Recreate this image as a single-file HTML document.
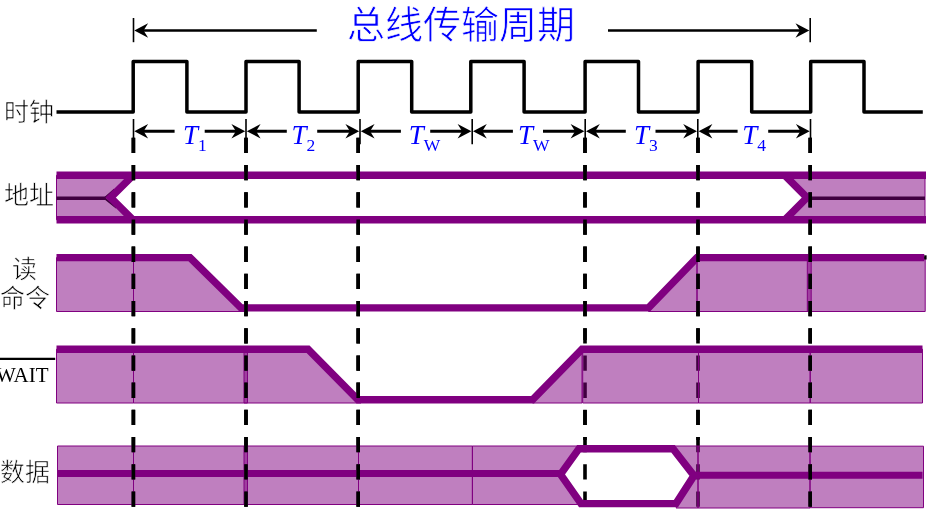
<!DOCTYPE html>
<html lang="zh-CN"><head><meta charset="utf-8"><title>bus timing</title>
<style>
html,body{margin:0;padding:0;background:#fff;}
body{width:930px;height:513px;overflow:hidden;position:relative;font-family:"Liberation Serif",serif;}
svg{position:absolute;left:0;top:0;will-change:transform;}
.lab{position:absolute;will-change:transform;-webkit-text-stroke:0.6px #fff;color:#000;font-family:"Liberation Serif",serif;white-space:nowrap;line-height:1;}
</style></head><body>
<svg width="930" height="513" viewBox="0 0 930 513">
<defs><clipPath id="cl1"><rect x="0" y="0" width="930" height="340"/><rect x="0" y="410" width="930" height="30"/></clipPath></defs>
<line x1="133.4" y1="137.8" x2="133.4" y2="530" stroke="#000" stroke-width="3.6" stroke-dasharray="15.3 11.9"/>
<line x1="246.0" y1="137.8" x2="246.0" y2="530" stroke="#000" stroke-width="3.6" stroke-dasharray="15.3 11.9"/>
<line x1="358.2" y1="137.8" x2="358.2" y2="530" stroke="#000" stroke-width="3.6" stroke-dasharray="15.3 11.9"/>
<line x1="585.0" y1="137.8" x2="585.0" y2="530" stroke="#000" stroke-width="3.6" stroke-dasharray="15.3 11.9"/>
<line x1="698.0" y1="137.8" x2="698.0" y2="530" stroke="#000" stroke-width="3.6" stroke-dasharray="15.3 11.9"/>
<line x1="810.2" y1="137.8" x2="810.2" y2="530" stroke="#000" stroke-width="3.6" stroke-dasharray="15.3 11.9"/>
<g>
<line x1="133.5" y1="18" x2="133.5" y2="42.2" stroke="#000" stroke-width="1.6"/>
<line x1="810.2" y1="18" x2="810.2" y2="42.2" stroke="#000" stroke-width="1.6"/>
<line x1="140" y1="30.5" x2="316.8" y2="30.5" stroke="#000" stroke-width="2.7"/>
<line x1="608" y1="30.5" x2="803" y2="30.5" stroke="#000" stroke-width="2.7"/>
<path d="M134.3,30.5 L148.10000000000002,23.3 L143.60000000000002,30.5 L148.10000000000002,37.7 Z" fill="#000"/>
<path d="M809.3,30.5 L795.5,23.3 L800.0,30.5 L795.5,37.7 Z" fill="#000"/>
</g>
<path d="M56.5,111.9 L133.2,111.9 L133.2,61.6 L186.9,61.6 L186.9,111.9 L246.0,111.9 L246.0,61.6 L299.1,61.6 L299.1,111.9 L358.2,111.9 L358.2,61.6 L411.7,61.6 L411.7,111.9 L470.8,111.9 L470.8,61.6 L524.1,61.6 L524.1,111.9 L585.1,111.9 L585.1,61.6 L638.5,61.6 L638.5,111.9 L698.1,111.9 L698.1,61.6 L751.7,61.6 L751.7,111.9 L810.7,111.9 L810.7,61.6 L864.0,61.6 L864.0,111.9 L922.8,111.9" fill="none" stroke="#000" stroke-width="3.5" stroke-linejoin="round"/>
<line x1="133.5" y1="119" x2="133.5" y2="144.3" stroke="#000" stroke-width="1.6"/>
<line x1="246.0" y1="119" x2="246.0" y2="144.3" stroke="#000" stroke-width="1.6"/>
<line x1="360.0" y1="119" x2="360.0" y2="144.3" stroke="#000" stroke-width="1.6"/>
<line x1="472.2" y1="119" x2="472.2" y2="144.3" stroke="#000" stroke-width="1.6"/>
<line x1="585.2" y1="119" x2="585.2" y2="144.3" stroke="#000" stroke-width="1.6"/>
<line x1="697.8" y1="119" x2="697.8" y2="144.3" stroke="#000" stroke-width="1.6"/>
<line x1="810.5" y1="119" x2="810.5" y2="144.3" stroke="#000" stroke-width="1.6"/>
<line x1="138.5" y1="131.3" x2="174.6" y2="131.3" stroke="#000" stroke-width="2.9"/>
<line x1="204.7" y1="131.3" x2="241.0" y2="131.3" stroke="#000" stroke-width="2.9"/>
<path d="M134.3,131.3 L148.10000000000002,124.10000000000001 L143.60000000000002,131.3 L148.10000000000002,138.5 Z" fill="#000"/>
<path d="M245.2,131.3 L231.39999999999998,124.10000000000001 L235.89999999999998,131.3 L231.39999999999998,138.5 Z" fill="#000"/>
<line x1="251.0" y1="131.3" x2="286.8" y2="131.3" stroke="#000" stroke-width="2.9"/>
<line x1="317.2" y1="131.3" x2="355.0" y2="131.3" stroke="#000" stroke-width="2.9"/>
<path d="M246.8,131.3 L260.6,124.10000000000001 L256.1,131.3 L260.6,138.5 Z" fill="#000"/>
<path d="M359.2,131.3 L345.4,124.10000000000001 L349.9,131.3 L345.4,138.5 Z" fill="#000"/>
<line x1="365.0" y1="131.3" x2="400.9" y2="131.3" stroke="#000" stroke-width="2.9"/>
<line x1="430.2" y1="131.3" x2="467.2" y2="131.3" stroke="#000" stroke-width="2.9"/>
<path d="M360.8,131.3 L374.6,124.10000000000001 L370.1,131.3 L374.6,138.5 Z" fill="#000"/>
<path d="M471.4,131.3 L457.59999999999997,124.10000000000001 L462.09999999999997,131.3 L457.59999999999997,138.5 Z" fill="#000"/>
<line x1="477.2" y1="131.3" x2="512.9" y2="131.3" stroke="#000" stroke-width="2.9"/>
<line x1="543.0" y1="131.3" x2="580.2" y2="131.3" stroke="#000" stroke-width="2.9"/>
<path d="M473.0,131.3 L486.8,124.10000000000001 L482.3,131.3 L486.8,138.5 Z" fill="#000"/>
<path d="M584.4000000000001,131.3 L570.6000000000001,124.10000000000001 L575.1000000000001,131.3 L570.6000000000001,138.5 Z" fill="#000"/>
<line x1="590.2" y1="131.3" x2="625.8" y2="131.3" stroke="#000" stroke-width="2.9"/>
<line x1="655.5" y1="131.3" x2="692.8" y2="131.3" stroke="#000" stroke-width="2.9"/>
<path d="M586.0,131.3 L599.8,124.10000000000001 L595.3,131.3 L599.8,138.5 Z" fill="#000"/>
<path d="M697.0,131.3 L683.2,124.10000000000001 L687.7,131.3 L683.2,138.5 Z" fill="#000"/>
<line x1="702.8" y1="131.3" x2="737.6" y2="131.3" stroke="#000" stroke-width="2.9"/>
<line x1="768.2" y1="131.3" x2="805.5" y2="131.3" stroke="#000" stroke-width="2.9"/>
<path d="M698.5999999999999,131.3 L712.3999999999999,124.10000000000001 L707.8999999999999,131.3 L712.3999999999999,138.5 Z" fill="#000"/>
<path d="M809.7,131.3 L795.9000000000001,124.10000000000001 L800.4000000000001,131.3 L795.9000000000001,138.5 Z" fill="#000"/>
<text x="182.9" y="143.8" font-family="Liberation Serif" font-style="italic" font-size="27" fill="#0000ff">T</text>
<text x="197.9" y="150.6" font-family="Liberation Serif" font-size="17.5" fill="#0000ff">1</text>
<text x="291.6" y="143.8" font-family="Liberation Serif" font-style="italic" font-size="27" fill="#0000ff">T</text>
<text x="306.6" y="150.6" font-family="Liberation Serif" font-size="17.5" fill="#0000ff">2</text>
<text x="408.8" y="143.8" font-family="Liberation Serif" font-style="italic" font-size="27" fill="#0000ff">T</text>
<text x="423.8" y="150.6" font-family="Liberation Serif" font-size="17.5" fill="#0000ff">W</text>
<text x="517.9" y="143.8" font-family="Liberation Serif" font-style="italic" font-size="27" fill="#0000ff">T</text>
<text x="532.9" y="150.6" font-family="Liberation Serif" font-size="17.5" fill="#0000ff">W</text>
<text x="634.0" y="143.8" font-family="Liberation Serif" font-style="italic" font-size="27" fill="#0000ff">T</text>
<text x="649.0" y="150.6" font-family="Liberation Serif" font-size="17.5" fill="#0000ff">3</text>
<text x="742.2" y="143.8" font-family="Liberation Serif" font-style="italic" font-size="27" fill="#0000ff">T</text>
<text x="757.2" y="150.6" font-family="Liberation Serif" font-size="17.5" fill="#0000ff">4</text>
<polygon points="56.5,175.3 133,175.3 110.6,197.55 133,219.8 56.5,219.8" fill="rgba(128,0,128,0.5)" stroke="#800080" stroke-width="1"/>
<polygon points="925,175.3 784.8,175.3 807.0,197.55 784.8,219.8 925,219.8" fill="rgba(128,0,128,0.5)" stroke="#800080" stroke-width="1"/>
<line x1="56.5" y1="198.3" x2="106" y2="198.3" stroke="#400040" stroke-width="3.6"/>
<polyline points="114.5,189.6 104.6,198.3 116.5,207.8" fill="none" stroke="#400040" stroke-width="2" stroke-linejoin="miter"/>
<line x1="812" y1="198.3" x2="925" y2="198.3" stroke="#400040" stroke-width="3.4"/>
<line x1="56.5" y1="175.3" x2="926" y2="175.3" stroke="#800080" stroke-width="7.4"/>
<line x1="56.5" y1="219.8" x2="926" y2="219.8" stroke="#800080" stroke-width="7.4"/>
<polyline points="133,175.3 110.6,197.55 133,219.8" fill="none" stroke="#800080" stroke-width="7.4" stroke-linejoin="miter"/>
<polyline points="784.8,175.3 807.0,197.55 784.8,219.8" fill="none" stroke="#800080" stroke-width="7.4" stroke-linejoin="miter"/>
<polygon points="56.5,257.6 133.5,257.6 133.5,311.5 56.5,311.5" fill="rgba(128,0,128,0.5)" stroke="#800080" stroke-width="1"/>
<polygon points="133.5,257.6 190.0,257.6 244.0,311.5 133.5,311.5" fill="rgba(128,0,128,0.5)" stroke="#800080" stroke-width="1"/>
<polygon points="648.5,311.5 697.0,257.6 697.0,311.5" fill="rgba(128,0,128,0.5)" stroke="#800080" stroke-width="1"/>
<polygon points="697.0,257.6 811.2,257.6 811.2,311.5 697.0,311.5" fill="rgba(128,0,128,0.5)" stroke="#800080" stroke-width="1"/>
<polygon points="807.3,257.6 925.2,257.6 925.2,311.5 807.3,311.5" fill="rgba(128,0,128,0.5)" stroke="#800080" stroke-width="1"/>
<polyline points="56.5,257.6 190.0,257.6 241.0,307.9 648.5,307.9 697.0,257.6 924.3,257.6" fill="none" stroke="#800080" stroke-width="7.4" stroke-linejoin="miter"/>
<rect x="924.2" y="255.3" width="2.4" height="4.2" fill="#000"/>
<polygon points="56.5,349.2 133.5,349.2 133.5,403.0 56.5,403.0" fill="rgba(128,0,128,0.5)" stroke="#800080" stroke-width="1"/>
<polygon points="133.5,349.2 247.5,349.2 247.5,403.0 133.5,403.0" fill="rgba(128,0,128,0.5)" stroke="#800080" stroke-width="1"/>
<polygon points="244,349.2 308.0,349.2 361.0,403.0 244,403.0" fill="rgba(128,0,128,0.5)" stroke="#800080" stroke-width="1"/>
<polygon points="532.5,403.0 582.0,349.2 582.0,403.0" fill="rgba(128,0,128,0.5)" stroke="#800080" stroke-width="1"/>
<!--under-->
<polygon points="582.7,349.2 698.5,349.2 698.5,403.0 582.7,403.0" fill="rgba(128,0,128,0.5)" stroke="#800080" stroke-width="1"/>
<polygon points="698.5,349.2 810.2,349.2 810.2,403.0 698.5,403.0" fill="rgba(128,0,128,0.5)" stroke="#800080" stroke-width="1"/>
<polygon points="810.2,349.2 922.5,349.2 922.5,403.0 810.2,403.0" fill="rgba(128,0,128,0.5)" stroke="#800080" stroke-width="1"/>
<polyline points="56.5,349.2 308.0,349.2 358.0,399.8 532.5,399.8 582.0,349.2 922.5,349.2" fill="none" stroke="#800080" stroke-width="7.4" stroke-linejoin="miter"/>
<polygon points="57.5,446.0 133.5,446.0 133.5,504.5 57.5,504.5" fill="rgba(128,0,128,0.5)" stroke="#800080" stroke-width="1"/>
<polygon points="133.5,446.0 247.5,446.0 247.5,504.5 133.5,504.5" fill="rgba(128,0,128,0.5)" stroke="#800080" stroke-width="1"/>
<polygon points="244,446.0 358.5,446.0 358.5,504.5 244,504.5" fill="rgba(128,0,128,0.5)" stroke="#800080" stroke-width="1"/>
<polygon points="358.5,446.0 472.4,446.0 472.4,504.5 358.5,504.5" fill="rgba(128,0,128,0.5)" stroke="#800080" stroke-width="1"/>
<polygon points="472.4,446.0 579.0,446.0 560.5,474.4 581.0,504.5 472.4,504.5" fill="rgba(128,0,128,0.5)" stroke="#800080" stroke-width="1"/>
<line x1="57.5" y1="473.4" x2="560.5" y2="473.4" stroke="#800080" stroke-width="7"/>
<polygon points="673.0,446 698,446 698,508 676.0,508 694.0,475.6" fill="rgba(128,0,128,0.5)" stroke="#800080" stroke-width="1"/>
<polygon points="698,446 810,446 810,508 698,508" fill="rgba(128,0,128,0.5)" stroke="#800080" stroke-width="1"/>
<polygon points="810,446.2 923.5,446.2 923.5,507.7 810,507.7" fill="rgba(128,0,128,0.5)" stroke="#800080" stroke-width="1"/>
<line x1="694.0" y1="475.2" x2="922.5" y2="475.2" stroke="#800080" stroke-width="7"/>
<polygon points="560.5,474.4 579.0,448.7 673.0,448.7 694.0,475.6 676.0,503.6 581.0,503.6" fill="none" stroke="#800080" stroke-width="7.4" stroke-linejoin="miter"/>
<line x1="133.4" y1="137.8" x2="133.4" y2="530" stroke="#000" stroke-width="3.6" stroke-dasharray="15.3 11.9"/>
<line x1="246.0" y1="137.8" x2="246.0" y2="530" stroke="#000" stroke-width="3.6" stroke-dasharray="15.3 11.9"/>
<line x1="358.2" y1="137.8" x2="358.2" y2="530" stroke="#000" stroke-width="3.6" stroke-dasharray="15.3 11.9"/>
<line x1="810.2" y1="137.8" x2="810.2" y2="530" stroke="#000" stroke-width="3.6" stroke-dasharray="15.3 11.9"/>
<g clip-path="url(#cl1)"><line x1="585.0" y1="137.8" x2="585.0" y2="530" stroke="#000" stroke-width="3.6" stroke-dasharray="15.3 11.9"/><line x1="698.0" y1="137.8" x2="698.0" y2="530" stroke="#000" stroke-width="3.6" stroke-dasharray="15.3 11.9"/></g>
<line x1="0" y1="358.9" x2="55.2" y2="358.9" stroke="#000" stroke-width="2.2"/>
</svg>
<div class="lab" style="left:347px;top:6px;font-size:38px;-webkit-text-stroke:0.7px #fff;color:#0000ff;">总线传输周期</div>
<div class="lab" style="left:4px;top:100px;font-size:25px;">时钟</div>
<div class="lab" style="left:4px;top:183px;font-size:25px;">地址</div>
<div class="lab" style="left:12px;top:257px;font-size:25px;">读</div>
<div class="lab" style="left:0px;top:286px;font-size:25px;">命令</div>
<div class="lab" style="left:-4px;top:365px;font-size:21px;-webkit-text-stroke:0;">WAIT</div>
<div class="lab" style="left:0px;top:460px;font-size:25px;">数据</div>
</body></html>
